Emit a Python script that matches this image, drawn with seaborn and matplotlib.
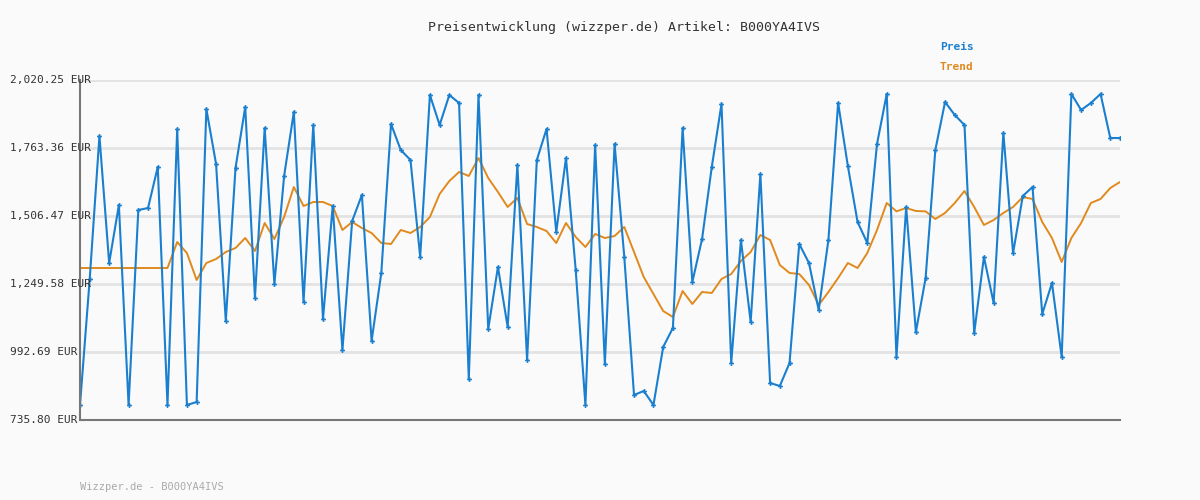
import matplotlib
matplotlib.use("Agg")
import matplotlib.pyplot as plt
import seaborn as sns
import pandas as pd

preis = [792.5,1268.5,1808.7,1328.9,1548.0,792.5,1529.1,1536.7,1691.6,792.5,1835.1,792.5,803.8,1910.7,1702.9,1109.8,1687.8,1918.2,1196.7,1838.9,1249.6,1657.6,1899.4,1181.6,1850.2,1117.4,1544.2,1000.2,1487.6,1585.8,1034.2,1291.2,1854.0,1755.8,1718.0,1351.6,1963.6,
         1850.2,1963.6,1933.4,890.7,1963.6,1079.6,1313.8,1087.1,1699.1,962.5,1718.0,1835.1,1446.0,1725.6,1302.5,792.5,1774.7,947.4,1778.5,1351.6,830.2,845.4,792.5,1011.6,1083.4,1838.9,1257.1,1419.6,1691.6,1929.6,951.1,1415.8,1106.0,1665.1,875.6,
         864.2,951.1,1400.7,1328.9,1151.4,1415.8,1933.4,1695.4,1483.8,1404.5,1778.5,1967.4,973.8,1540.5,1068.2,1272.2,1755.8,1937.2,1888.0,1850.2,1064.5,1351.6,1177.8,1820.0,1366.7,1582.0,1616.0,1136.2,1253.4,973.8,1967.4,1906.9,1933.4,1967.4,1801.1,1801.1]
trend = [1310.0]*10 + [1408.2,1366.7,1264.7,1328.9,1344.0,1370.5,1385.6,1423.4,1374.3,1480.0,1419.6,1502.7,1616.0,1544.2,1559.4,1559.4,1544.2,1453.6,1483.8,1461.1,1442.2,1404.5,1400.7,1453.6,1442.2,1464.9,1502.7,
         1589.6,1638.7,1672.7,1657.6,1725.6,1650.0,1597.1,1540.5,1574.5,1476.2,1464.9,1449.8,1404.5,1480.0,1427.1,1389.4,1438.5,1423.4,1430.9,1464.9,1370.5,1276.0,1211.8,1147.6,1124.9,1223.1,1174.0,1219.4,1215.6,1268.5,1287.4,1336.5,1370.5,1434.7,1415.8,
         1321.4,1291.2,1287.4,1245.8,1170.2,1219.4,1272.2,1328.9,1310.0,1366.7,1453.6,1555.6,1524.0,1536.7,1525.4,1524.0,1495.1,1517.9,1555.6,1600.9,1540.5,1472.5,1491.4,1517.9,1540.5,1578.2,1570.7,1483.8,1423.4,1332.7,1423.4,1480.0,1555.6,1570.7,1612.2,1634.9]
yticks = [735.80, 992.69, 1249.58, 1506.47, 1763.36, 2020.25]
ytick_labels = ["735.80 EUR", "992.69 EUR", "1,249.58 EUR", "1,506.47 EUR", "1,763.36 EUR", "2,020.25 EUR"]

df = pd.DataFrame({"i": range(len(preis)), "preis": preis, "trend": trend})
sns.set_style("white")
plt.rcParams['font.family'] = ['DejaVu Sans Mono']
fig = plt.figure(figsize=(12, 5), dpi=100, facecolor="#fafafa")
ax = fig.add_axes([80/1200, 0.16, 1040/1200, 0.68], facecolor="#fafafa")
blue, orange = "#1a7fcf", "#e08a1e"
sns.lineplot(data=df, x="i", y="trend", ax=ax, color=orange, lw=1.4)
sns.lineplot(data=df, x="i", y="preis", ax=ax, color=blue, lw=1.5, marker="P", markersize=3.5, markeredgewidth=0)
ax.set_xlim(0, len(preis) - 1)
ax.set_ylim(yticks[0], yticks[-1])
ax.set_yticks(yticks)
ax.set_yticklabels([])
ax.set_xticks([])
ax.set_xlabel(""); ax.set_ylabel("")
for t in yticks[1:]:
    ax.axhline(t, color="#e3e3e3", lw=2, zorder=0)
for t, lab in zip(yticks, ytick_labels):
    fig.text(10/1200, ax.transData.transform((0, t))[1]/500, lab, fontsize=8, color="#333333", va="center", ha="left")
ax.tick_params(left=False, bottom=False)
for s in ["top", "right"]:
    ax.spines[s].set_visible(False)
for s in ["left", "bottom"]:
    ax.spines[s].set_color("#777777"); ax.spines[s].set_linewidth(1.5)
fig.text(624/1200, 1-28/500, "Preisentwicklung (wizzper.de) Artikel: B000YA4IVS", ha="center", va="center", fontsize=9.5, color="#333333")
fig.text(940/1200, 1-47/500, "Preis", color=blue, fontsize=8, fontweight="bold", va="center")
fig.text(940/1200, 1-67/500, "Trend", color=orange, fontsize=8, fontweight="bold", va="center")
fig.text(80/1200, 1-487/500, "Wizzper.de - B000YA4IVS", color="#aaaaaa", fontsize=7.5, va="center")
fig.savefig("out.png", dpi=100, facecolor=fig.get_facecolor())
